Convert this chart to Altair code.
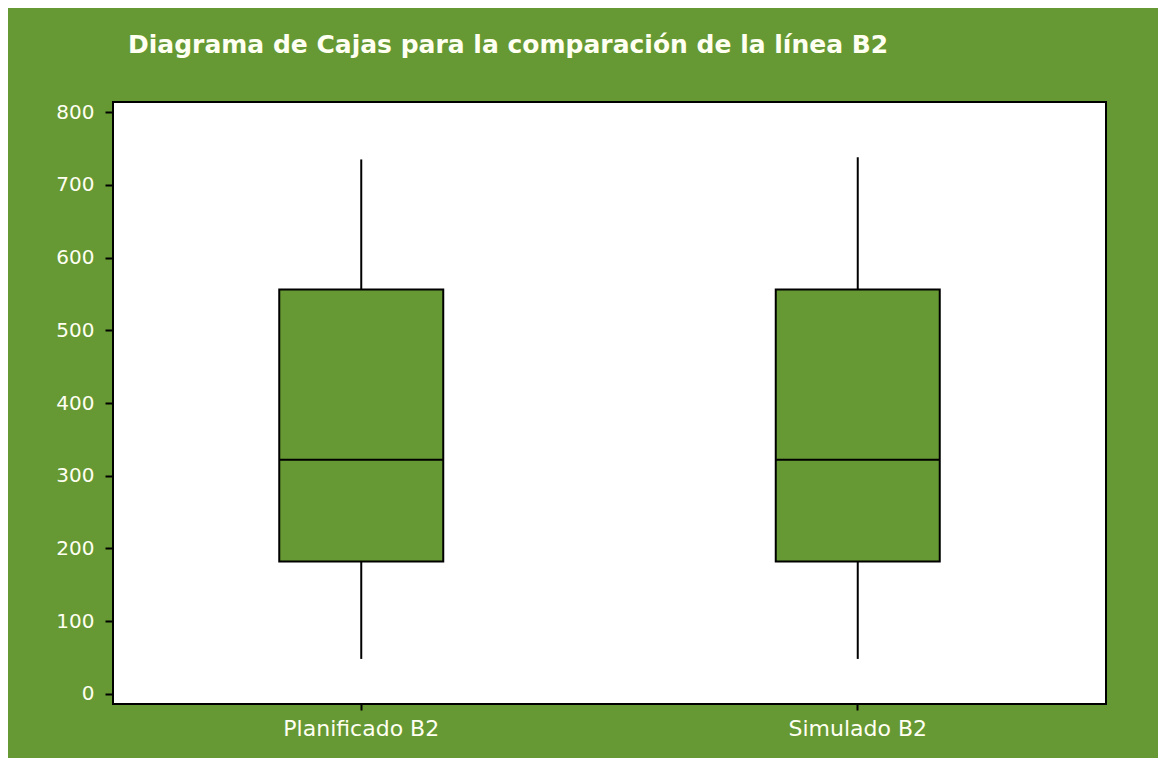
import altair as alt
import pandas as pd

# Values
categories = ["Planificado B2", "Simulado B2"]
whisker_low = [48, 48]
q1 = [182, 182]
median = [322, 322]
q3 = [556, 556]
whisker_high = [735, 738]
y_ticks = [0, 100, 200, 300, 400, 500, 600, 700, 800]

GREEN = "#669933"
LABEL = "#FFFFF2"

df = pd.DataFrame({
    "cat": categories,
    "lo": whisker_low,
    "q1": q1,
    "med": median,
    "q3": q3,
    "hi": whisker_high,
})

x = alt.X("cat:N", sort=categories, title=None,
          scale=alt.Scale(paddingInner=0, paddingOuter=0),
          axis=alt.Axis(labelAngle=0, labelFont="DejaVu Sans", labelFontSize=22,
                        labelColor=LABEL, labelPadding=8, tickColor="black",
                        tickSize=6, tickWidth=2, domain=False, grid=False))
yscale = alt.Scale(domain=[-14, 814], nice=False, zero=False)
yaxis = alt.Axis(values=y_ticks, labelFont="DejaVu Sans", labelFontSize=20,
                 labelColor=LABEL, labelPadding=11, tickColor="black",
                 tickSize=8, tickWidth=2, domain=False, grid=False)

base = alt.Chart(df)

w_low = base.mark_rule(color="black", strokeWidth=2).encode(
    x=x, y=alt.Y("lo:Q", scale=yscale, axis=yaxis, title=None), y2="q1:Q")
w_high = base.mark_rule(color="black", strokeWidth=2).encode(
    x=x, y=alt.Y("q3:Q", scale=yscale, axis=yaxis, title=None), y2="hi:Q")
box = base.mark_bar(fill=GREEN, stroke="black", strokeWidth=2, size=164).encode(
    x=x, y=alt.Y("q1:Q", scale=yscale, axis=yaxis, title=None), y2="q3:Q")
med = base.mark_tick(color="black", size=164, thickness=2, opacity=1).encode(
    x=x, y=alt.Y("med:Q", scale=yscale, axis=yaxis, title=None))

chart = alt.layer(w_low, w_high, box, med).properties(
    width=993, height=602,
    autosize=alt.AutoSizeParams(type="none"),
    padding={"left": 105, "top": 94, "right": 52, "bottom": 54},
    background=GREEN,
    title=alt.TitleParams(
        "Diagrama de Cajas para la comparación de la línea B2",
        anchor="start", frame="group", dx=15, offset=44,
        font="DejaVu Sans", fontSize=25, fontWeight="bold", color=LABEL),
).configure_view(fill="white", stroke="black", strokeWidth=2)

chart.save("out.html", embed_options={"renderer": "svg", "actions": False})
